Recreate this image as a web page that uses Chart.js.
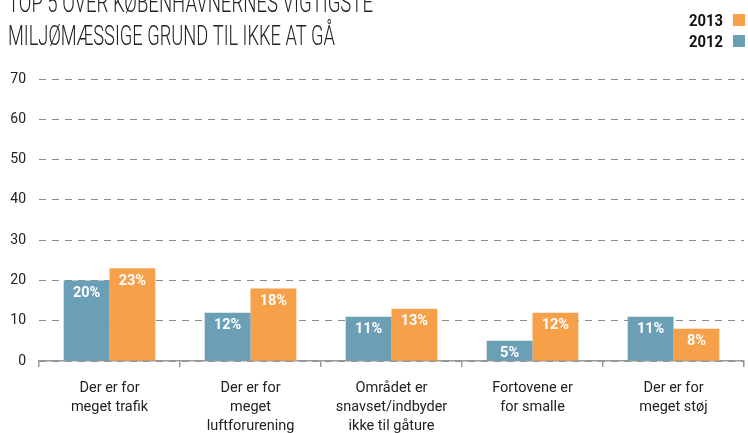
<!DOCTYPE html>
<html>
<head>
<meta charset="utf-8">
<script src="https://cdn.jsdelivr.net/npm/chart.js@4"></script>
<style>
  html, body { margin: 0; padding: 0; background: #fff; }
</style>
</head>
<body>
<canvas id="chart" width="748" height="433"></canvas>
<script>
const titleLines = ['TOP 5 OVER KØBENHAVNERNES VIGTIGSTE', 'MILJØMÆSSIGE GRUND TIL IKKE AT GÅ'];
const categories = [
    ['Der er for', 'meget trafik'],
    ['Der er for', 'meget', 'luftforurening'],
    ['Området er', 'snavset/indbyder', 'ikke til gåture'],
    ['Fortovene er', 'for smalle'],
    ['Der er for', 'meget støj']
];
const values2012 = [20, 12, 11, 5, 11];
const values2013 = [23, 18, 13, 12, 8];
const yTicks = [0, 10, 20, 30, 40, 50, 60, 70];

const blue = '#6a9fb6';
const orange = '#f7a04a';

Chart.defaults.font.family = 'Roboto, "DejaVu Sans", sans-serif';
Chart.defaults.color = '#222';

// title (top-left), legend (top-right) and value labels inside bars
const decor = {
    id: 'decor',
    afterDraw(chart) {
        const ctx = chart.ctx;
        ctx.save();
        ctx.fillStyle = '#222';
        ctx.textBaseline = 'alphabetic';
        ctx.textAlign = 'left';
        ctx.font = '300 28px Roboto, sans-serif';
        ctx.fillText(titleLines[0], 8, 12, 365);
        ctx.fillText(titleLines[1], 8, 45, 327);

        // legend: text, then colour square
        const sets = [chart.data.datasets[1], chart.data.datasets[0]];
        ctx.font = 'bold 16px Roboto, sans-serif';
        ctx.textAlign = 'right';
        sets.forEach((ds, i) => {
            const y = 26 + i * 21;
            ctx.fillStyle = '#111';
            ctx.fillText(ds.label, 723, y, 34);
            ctx.fillStyle = ds.backgroundColor;
            ctx.fillRect(733, y - 12, 12, 12);
        });
        ctx.restore();
    },
    afterDatasetsDraw(chart) {
        const ctx = chart.ctx;
        ctx.save();
        ctx.fillStyle = '#fff';
        ctx.font = 'bold 14.5px Roboto, sans-serif';
        ctx.textAlign = 'center';
        ctx.textBaseline = 'middle';
        chart.data.datasets.forEach((ds, di) => {
            chart.getDatasetMeta(di).data.forEach((bar, i) => {
                ctx.fillText(ds.data[i] + '%', bar.x, bar.y + 13);
            });
        });
        ctx.restore();
    }
};

new Chart(document.getElementById('chart'), {
    type: 'bar',
    data: {
        labels: categories,
        datasets: [
            { label: '2012', data: values2012, backgroundColor: blue },
            { label: '2013', data: values2013, backgroundColor: orange }
        ]
    },
    options: {
        responsive: false,
        animation: false,
        events: [],
        categoryPercentage: 0.65,
        barPercentage: 1.0,
        layout: { padding: { top: 79, right: 4, left: 0, bottom: 0 } },
        plugins: {
            legend: { display: false },
            title: { display: false },
            tooltip: { enabled: false }
        },
        scales: {
            x: {
                grid: {
                    offset: true,
                    drawOnChartArea: false,
                    drawTicks: true,
                    tickLength: 6,
                    color: '#999',
                    lineWidth: 1.5
                },
                border: { display: true, color: '#999', width: 1.5 },
                ticks: {
                    font: { size: 14.5, lineHeight: 1.3 },
                    color: '#222',
                    padding: 12,
                    maxRotation: 0,
                    autoSkip: false
                },
                afterFit(scale) { scale.height = 72; }
            },
            y: {
                min: 0,
                max: 70,
                afterBuildTicks(scale) { scale.ticks = yTicks.map(v => ({ value: v })); },
                grid: {
                    drawTicks: false,
                    color: '#8c8c8c',
                    lineWidth: 1
                },
                border: { display: false, dash: [7, 6] },
                ticks: {
                    font: { size: 14 },
                    color: '#222',
                    padding: 13
                },
                afterFit(scale) { scale.width = 39; }
            }
        }
    },
    plugins: [decor]
});
</script>
</body>
</html>
